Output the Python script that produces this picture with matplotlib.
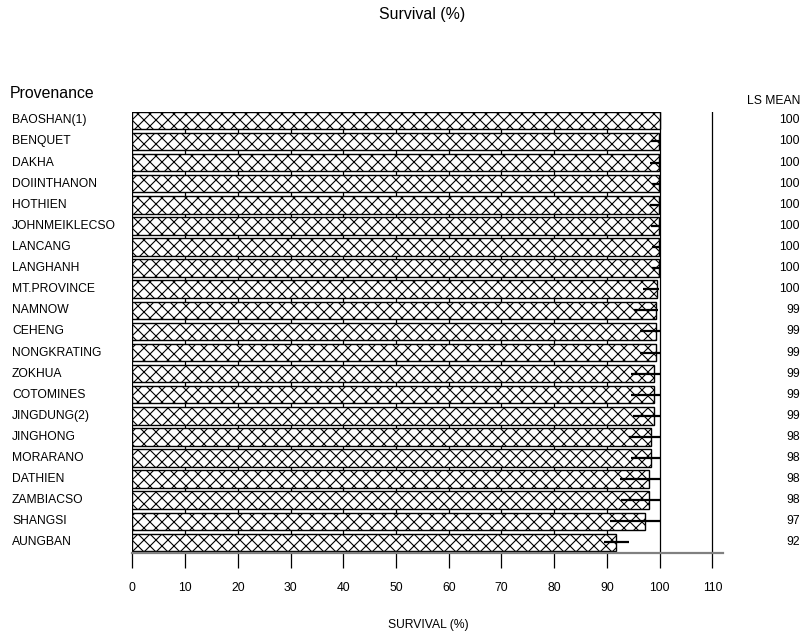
import matplotlib
matplotlib.use("Agg")
import matplotlib.pyplot as plt
import matplotlib.transforms as mtransforms
import numpy as np

plt.rcParams['font.family'] = ['Liberation Sans', 'DejaVu Sans']

provenances = ["BAOSHAN(1)", "BENQUET", "DAKHA", "DOIINTHANON", "HOTHIEN",
               "JOHNMEIKLECSO", "LANCANG", "LANGHANH", "MT.PROVINCE", "NAMNOW",
               "CEHENG", "NONGKRATING", "ZOKHUA", "COTOMINES", "JINGDUNG(2)",
               "JINGHONG", "MORARANO", "DATHIEN", "ZAMBIACSO", "SHANGSI", "AUNGBAN"]
survival = [100, 99.9, 99.9, 99.9, 99.9, 99.9, 99.9, 99.9, 99.5, 99.3,
            99.3, 99.3, 98.9, 98.9, 98.9, 98.4, 98.4, 97.9, 97.9, 97.3, 91.8]
err_low = [100, 98.3, 98.1, 98.5, 98.1, 98.4, 98.5, 98.5, 96.8, 95.1,
           96.2, 96.2, 94.6, 94.6, 95.0, 94.1, 94.6, 92.5, 92.7, 90.5, 89.4]
err_high = [100, 100, 100, 100, 100, 100, 100, 100, 99.8, 99.6,
            100, 100, 100, 100, 100, 100, 100, 100, 100, 100, 94.2]
ls_mean = [100, 100, 100, 100, 100, 100, 100, 100, 100, 99,
           99, 99, 99, 99, 99, 98, 98, 98, 98, 97, 92]
xticks = [0, 10, 20, 30, 40, 50, 60, 70, 80, 90, 100, 110]

# drawn at 72 dpi so the hatch cells come out ~12 px wide; sizes scaled back up
W, H = 803, 636
DPI = 72
S = 100 / DPI
plt.rcParams['hatch.linewidth'] = 0.8 * S

fig = plt.figure(figsize=(W / DPI, H / DPI), dpi=DPI)
ax = fig.add_axes([132.3 / W, 1 - 553 / H, (723 - 132.3) / W, (553 - 111.5) / H])

y = np.arange(len(provenances))
ax.barh(y, survival, height=0.83, color='white', edgecolor='black',
        linewidth=1.0 * S, hatch='xx', zorder=2)
ax.hlines(y, err_low, err_high, color='black', linewidth=1.6 * S, zorder=3)

# vertical reference lines at each tick, hidden behind the bars
for t in xticks:
    ax.axvline(t, color='black', linewidth=0.9 * S, zorder=1)

ax.set_xlim(0, 112)
ax.set_ylim(len(provenances) - 0.5, -0.42)
ax.set_xticks(xticks)
ax.set_yticks([])
for s in ['top', 'right', 'left']:
    ax.spines[s].set_visible(False)
ax.spines['bottom'].set_color('#808080')
ax.spines['bottom'].set_linewidth(1.6 * S)
ax.tick_params(axis='x', length=11 * S, width=0.9 * S, color='black',
               pad=10 * S, labelsize=8.7 * S)

# row labels and LS means
trans = mtransforms.blended_transform_factory(fig.transFigure, ax.transData)
for i, name in enumerate(provenances):
    ax.text(12 / W, i, name, transform=trans, ha='left', va='center', fontsize=8.7 * S)
    ax.text(800 / W, i, str(ls_mean[i]), transform=trans, ha='right', va='center',
            fontsize=8.7 * S)

fig.text(800 / W, 1 - 101 / H, "LS MEAN", ha='right', va='center', fontsize=8.7 * S)
fig.text(10 / W, 1 - 93 / H, "Provenance", ha='left', va='center', fontsize=11.4 * S)
fig.text(422 / W, 1 - 15 / H, "Survival (%)", ha='center', va='center', fontsize=11.4 * S)
fig.text(428 / W, 1 - 625 / H, "SURVIVAL (%)", ha='center', va='center', fontsize=8.7 * S)

fig.savefig("out.png", dpi=DPI)
